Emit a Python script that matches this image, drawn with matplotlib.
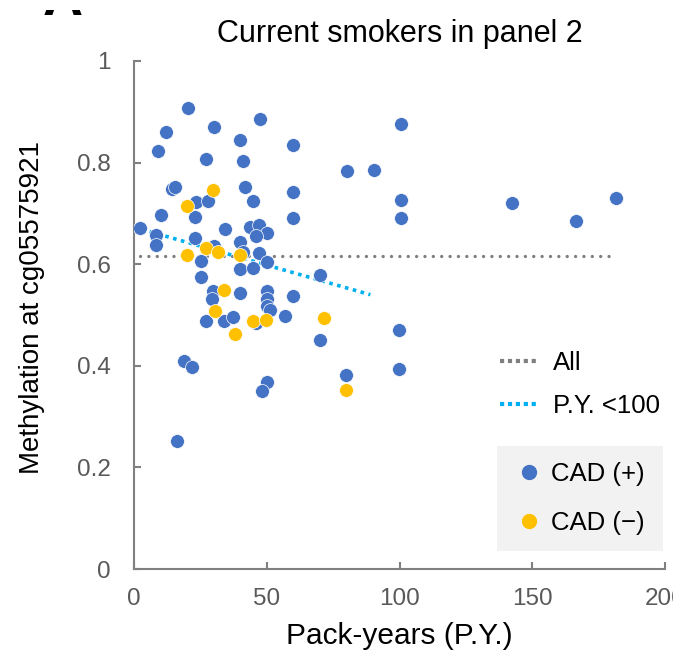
import numpy as np
import matplotlib
matplotlib.use("Agg")
import matplotlib.pyplot as plt
from matplotlib.lines import Line2D
from matplotlib.transforms import Bbox, TransformedBbox

plt.rcParams['font.family'] = ['Liberation Sans', 'DejaVu Sans']

# CAD (+) current smokers: pack-years, methylation
cad_pos_x = [20.2, 12.1, 30.1, 47.3, 39.9, 59.9, 9.2, 27.1, 41.1, 14.2,
             15.4, 41.9, 59.9, 23.2, 27.9, 44.9, 10.2, 23.1, 59.9, 2.3,
             34.3, 43.7, 47.2, 50.0, 46.0, 8.3, 8.3, 23.1, 30.1, 39.9,
             41.2, 47.0, 25.1, 39.9, 44.9, 50.0, 25.1, 70.1, 29.9, 29.4,
             39.9, 50.0, 50.0, 50.0, 51.2, 59.8, 27.1, 33.9, 37.2, 46.0,
             56.9, 70.1, 99.9, 18.9, 21.8, 99.9, 79.8, 50.0, 48.2, 16.2,
             100.5, 80.2, 90.5, 100.5, 100.5, 142.2, 166.3, 181.4]
cad_pos_y = [0.907, 0.861, 0.871, 0.886, 0.845, 0.834, 0.822, 0.808, 0.803, 0.749,
             0.751, 0.751, 0.742, 0.722, 0.725, 0.724, 0.697, 0.693, 0.691, 0.672,
             0.670, 0.674, 0.677, 0.662, 0.656, 0.658, 0.637, 0.651, 0.635, 0.644,
             0.624, 0.622, 0.606, 0.591, 0.593, 0.604, 0.575, 0.578, 0.548, 0.532,
             0.543, 0.548, 0.532, 0.517, 0.510, 0.538, 0.489, 0.489, 0.497, 0.484,
             0.498, 0.451, 0.471, 0.410, 0.398, 0.393, 0.382, 0.368, 0.351, 0.252,
             0.875, 0.783, 0.786, 0.726, 0.691, 0.720, 0.686, 0.731]

# CAD (-) current smokers
cad_neg_x = [29.8, 20.0, 27.1, 31.8, 39.9, 20.0, 33.9, 30.4, 44.9, 49.7, 71.7, 37.9, 79.8]
cad_neg_y = [0.747, 0.714, 0.632, 0.624, 0.619, 0.618, 0.550, 0.508, 0.489, 0.491,
             0.495, 0.462, 0.353]

# trend lines
all_x = [2.3, 181.4]
all_y = [0.617, 0.617]
py100_x = [0, 89]
py100_y = [0.673, 0.540]

xticks = [0, 50, 100, 150, 200]
yticks = [0, 0.2, 0.4, 0.6, 0.8, 1]
ytick_labels = ["0", "0.2", "0.4", "0.6", "0.8", "1"]

BLUE = "#4472C4"
ORANGE = "#FFC000"
GRAY = "#7F7F7F"
CYAN = "#00B0F0"
AXGRAY = "#808080"
TICKGRAY = "#595959"

fig = plt.figure(figsize=(6.73, 6.58), dpi=100)
ax = fig.add_axes([134/673, (658-569)/658, 531/673, (569-61)/658])

ax.plot(all_x, all_y, color=GRAY, lw=2.4, linestyle=(0, (0.01, 2.5)),
        dash_capstyle='round', zorder=3)
ax.plot(py100_x, py100_y, color=CYAN, lw=2.6, linestyle=(0, (1, 1.25)),
        dash_capstyle='butt', zorder=3)
ax.scatter(cad_pos_x, cad_pos_y, s=100, color=BLUE, edgecolor='white',
           linewidth=0.5, zorder=4)
ax.scatter(cad_neg_x, cad_neg_y, s=100, color=ORANGE, edgecolor='white',
           linewidth=0.5, zorder=5)

ax.set_xlim(0, 200)
ax.set_ylim(0, 1)
ax.set_xticks(xticks)
ax.set_yticks(yticks)
ax.set_yticklabels(ytick_labels)
for s in ['top', 'right']:
    ax.spines[s].set_visible(False)
for s in ['left', 'bottom']:
    ax.spines[s].set_color(AXGRAY)
    ax.spines[s].set_linewidth(1.5)
ax.tick_params(axis='both', direction='in', length=5, width=1.5, color=AXGRAY,
               labelcolor=TICKGRAY, labelsize=17.5)
ax.tick_params(axis='y', pad=17)
ax.tick_params(axis='x', pad=14)

ax.set_title("Current smokers in panel 2", fontsize=22, pad=14)
ax.set_xlabel("Pack-years (P.Y.)", fontsize=21.5, labelpad=8)
ax.set_ylabel("Methylation at cg05575921", fontsize=20)
ax.yaxis.set_label_coords(-0.1675, 0.514)

# line legend
line_handles = [Line2D([], [], color=GRAY, lw=3, linestyle=(0, (1, 0.9))),
                Line2D([], [], color=CYAN, lw=3, linestyle=(0, (1, 0.9)))]
leg1 = ax.legend(line_handles, ["All", "P.Y. <100"], loc='upper left',
                 bbox_to_anchor=(0.689, 0.429), frameon=False, fontsize=18.5,
                 handlelength=1.45, handletextpad=0.6, labelspacing=0.72,
                 borderaxespad=0, borderpad=0)
ax.add_artist(leg1)

# marker legend
pt_handles = [Line2D([], [], marker='o', ls='none', color=BLUE, markersize=10),
              Line2D([], [], marker='o', ls='none', color=ORANGE, markersize=10)]
leg2 = ax.legend(pt_handles, ["CAD (+)", "CAD (\u2212)"], loc='lower left',
                 bbox_to_anchor=(0.684, 0.036, 0.312, 0.202), mode='expand',
                 fontsize=18.5, frameon=True, fancybox=False, facecolor='#F2F2F2',
                 edgecolor='none', framealpha=1, handlelength=1.25,
                 handletextpad=0.25, labelspacing=1.0, borderpad=0.6,
                 borderaxespad=0)

# panel letter, cut off at the top of the picture
a = fig.text(0.064, 1 - 15/658, "A", fontsize=40, fontweight='bold',
             ha='left', va='baseline')
a.set_clip_box(TransformedBbox(Bbox([[0, 1 - 15/658], [0.3, 1 - 10/658]]),
                               fig.transFigure))
a.set_clip_on(True)

fig.savefig("out.png", dpi=100)
